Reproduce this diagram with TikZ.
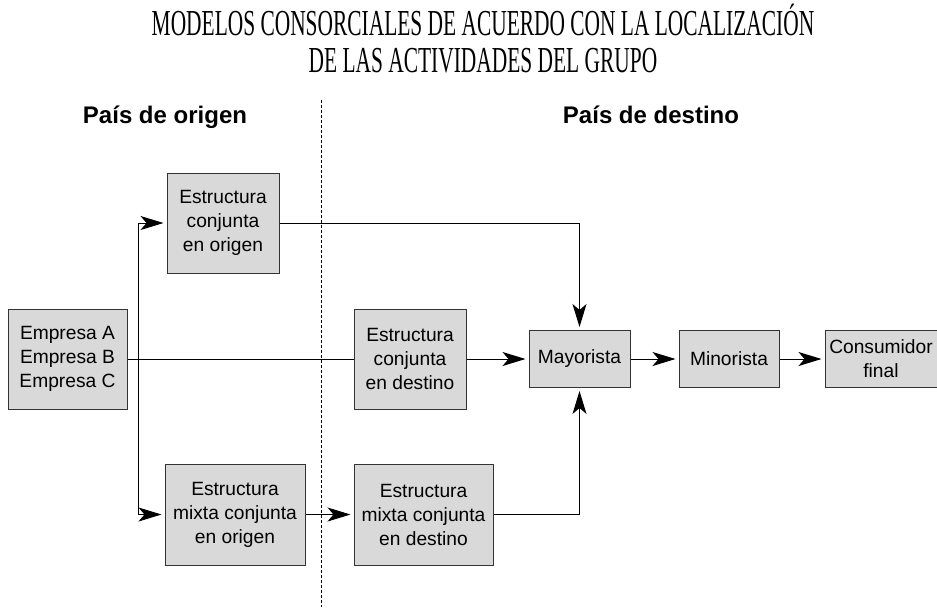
\documentclass[tikz,border=0pt]{standalone}
\usepackage{fontspec}
\setmainfont{Liberation Sans}
\newfontfamily\titlefont[FakeStretch=0.585]{Liberation Serif}
\usetikzlibrary{arrows.meta}
\usetikzlibrary{positioning}

\begin{document}
\begin{tikzpicture}
    [
    x=0.5pt,y=-0.5pt,
    box/.style={rectangle,draw=black!80,fill=black!15,line width=0.5pt,inner sep=0pt,align=center,font=\fontsize{9.6}{12}\selectfont},
    link/.style={line width=0.5pt},
    tip/.style={-{Stealth[length=11.5pt,width=7pt,inset=3pt]},shorten >=1.5pt},
    region/.style={anchor=base,font=\bfseries\fontsize{12}{14}\selectfont},
    ]
    \useasboundingbox (0,0) rectangle (937,607);
    \node (title) at (483,39) [inner sep=0pt,align=center,font=\titlefont\fontsize{18.3}{18.5}\selectfont]
      {MODELOS CONSORCIALES DE ACUERDO CON LA LOCALIZACIÓN\\DE LAS ACTIVIDADES DEL GRUPO};
    \node (orig) at (165,123) [region] {País de origen};
    \node (dest) at (651,123) [region] {País de destino};

    \coordinate (divtop) at (321,100);
    \coordinate (divbot) at (321,607);
    \draw [dashed,dash pattern=on 1.5pt off 1pt,line width=0.5pt] (divtop) to (divbot);

    \node (emp) at (67.5,359) [box,minimum width=59.5pt,minimum height=50pt] {Empresa A\\Empresa B\\Empresa C};
    \node (corig) at (223,223) [box,minimum width=56pt,minimum height=50pt] {Estructura\\conjunta\\en origen};
    \node (cdes) at (410,359) [box,minimum width=56pt,minimum height=50pt] {Estructura\\conjunta\\en destino};
    \node (morig) at (235,514.5) [box,minimum width=70pt,minimum height=50.5pt] {Estructura\\mixta conjunta\\en origen};
    \node (mdes) at (423.5,514.5) [box,minimum width=69.5pt,minimum height=50.5pt] {Estructura\\mixta conjunta\\en destino};
    \node (may) at (579.5,359) [box,minimum width=50.5pt,minimum height=28.5pt] {Mayorista};
    \node (min) [box,minimum width=50pt,minimum height=28.5pt,right=24pt of may] {Minorista};
    \node (cons) [box,minimum width=56pt,minimum height=28.5pt,right=22.5pt of min] {Consumidor\\final};

    \coordinate (split) at (138,359);
    \draw [link] (emp) to (cdes);
    \draw [link,tip] (split) |- (corig);
    \draw [link,tip] (split) |- (morig);
    \draw [link,tip] (morig) to (mdes);
    \draw [link,tip] (cdes) to (may);
    \draw [link,tip] (corig) -| (may);
    \draw [link,tip] (mdes) -| (may);
    \draw [link,tip] (may) to (min);
    \draw [link,tip] (min) to (cons);
  \end{tikzpicture}
\end{document}
